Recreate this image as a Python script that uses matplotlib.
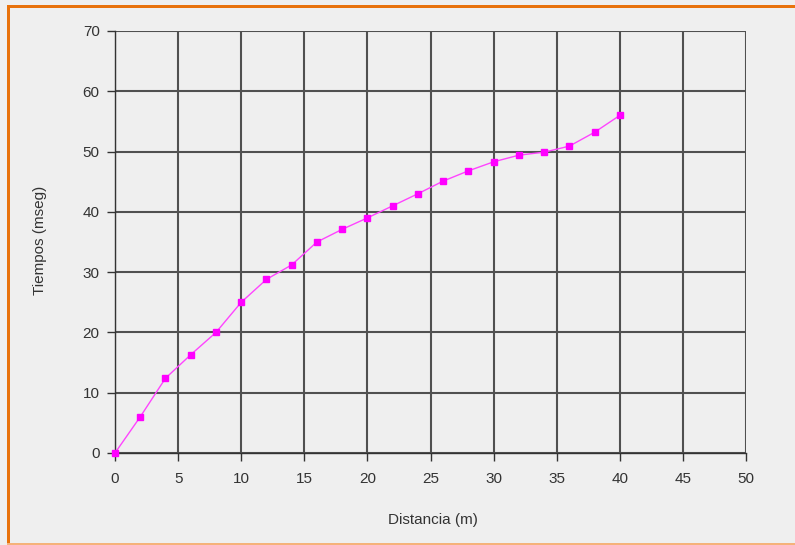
import matplotlib
matplotlib.use("Agg")
import matplotlib.pyplot as plt
from matplotlib.patches import Rectangle

distancia = [0, 2, 4, 6, 8, 10, 12, 14, 16, 18, 20, 22, 24, 26, 28, 30, 32, 34, 36, 38, 40]
tiempos = [0, 6, 12.4, 16.3, 20, 25, 28.8, 31.2, 35, 37.1, 39, 41, 43, 45.1, 46.8, 48.3, 49.4, 49.9, 50.9, 53.2, 56]
x_ticks = [0, 5, 10, 15, 20, 25, 30, 35, 40, 45, 50]
y_ticks = [0, 10, 20, 30, 40, 50, 60, 70]

plt.rcParams['font.family'] = ['Liberation Sans', 'DejaVu Sans']

fig = plt.figure(figsize=(7.95, 5.45), dpi=100)
bg = '#efefef'
fig.patch.set_facecolor(bg)

ax = fig.add_axes([115/795, (545-453)/545, (746-115)/795, (453-31)/545])
ax.set_facecolor(bg)

ax.plot(distancia, tiempos, color='#ff44ff', lw=1.0, marker='s', markersize=5,
        markerfacecolor='#ff00ff', markeredgecolor='#ff00ff', zorder=5, clip_on=False)

ax.set_xlim(0, 50)
ax.set_ylim(0, 70)
ax.set_xticks(x_ticks)
ax.set_yticks(y_ticks)
ax.grid(True, color='#505050', lw=1.5)
ax.set_axisbelow(True)
for s in ['top', 'right']:
    ax.spines[s].set_visible(False)
for s in ['left', 'bottom']:
    ax.spines[s].set_color('#333333')
    ax.spines[s].set_linewidth(1.0)
ax.tick_params(axis='both', direction='out', length=6, width=1, color='#333333',
               labelsize=11, labelcolor='#333333')
ax.tick_params(axis='x', pad=8)
ax.tick_params(axis='y', pad=5)

fig.text(433/795, 1 - 520/545, 'Distancia (m)', ha='center', va='center', fontsize=11, color='#333333')
fig.text(40/795, 1 - 240/545, 'Tiempos (mseg)', ha='center', va='center', rotation=90,
         fontsize=11, color='#333333')

# orange frame
fig.patches.append(Rectangle((7/795, 0), 3/795, 1 - 5/545, transform=fig.transFigure,
                             facecolor='#e8720c', edgecolor='none'))
fig.patches.append(Rectangle((7/795, 1 - 8/545), 1 - 7/795, 3/545, transform=fig.transFigure,
                             facecolor='#e8720c', edgecolor='none'))
fig.patches.append(Rectangle((7/795, 0), 1 - 7/795, 2/545, transform=fig.transFigure,
                             facecolor='#f5b27a', edgecolor='none'))

fig.savefig('out.png', dpi=100, facecolor=bg)
